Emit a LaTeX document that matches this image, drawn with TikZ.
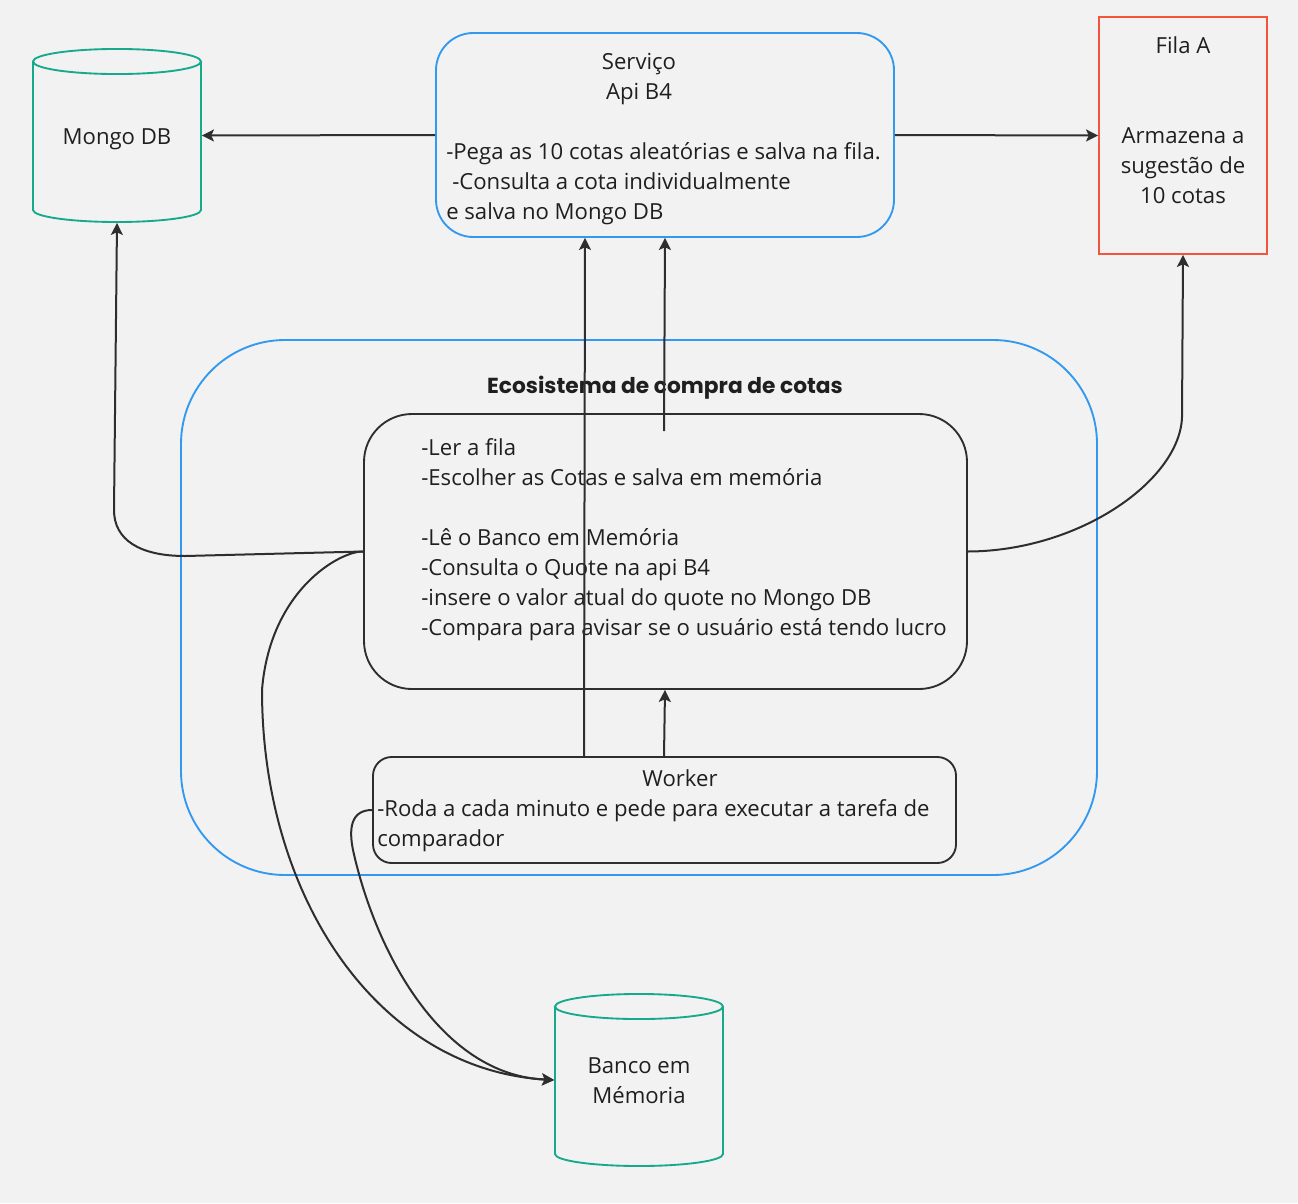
\documentclass[tikz,border=0pt]{standalone}
\usepackage{fontspec}
\setmainfont{Open Sans}
\newfontfamily\titlefont{Poppins}
\usetikzlibrary{arrows.meta,calc}
\definecolor{bgc}{HTML}{F2F2F2}
\definecolor{ink}{HTML}{2E2E2E}
\definecolor{txtc}{HTML}{1F1F1F}
\definecolor{dbgreen}{HTML}{17A98B}
\definecolor{svcblue}{HTML}{3399F0}
\definecolor{filared}{HTML}{F2553C}
\newcommand\tstr{\rule{0pt}{15pt}}
\begin{document}
\begin{tikzpicture}[x=0.75pt,y=-0.75pt,
  conn/.style={draw=ink,line width=1.5pt,-{Stealth[length=9pt,width=9pt,inset=2pt]}},
  lbl/.style={text=txtc,inner sep=0pt,font=\fontsize{16.6}{22.5}\selectfont},
  shp/.style={inner sep=0pt,line width=1.4pt},
  dbshape/.style={draw=dbgreen,line width=1.4pt},
  svcbox/.style={shp,draw=svcblue,rounded corners=28pt,minimum width=343.5pt,minimum height=153pt},
  filabox/.style={shp,draw=filared,minimum width=126pt,minimum height=177.75pt},
  ecobox/.style={shp,draw=svcblue,rounded corners=78pt,minimum width=687pt,minimum height=401.25pt},
  innerbox/.style={shp,draw=ink,rounded corners=36pt,minimum width=452.25pt,minimum height=206.25pt},
  workerbox/.style={shp,draw=ink,rounded corners=14pt,minimum width=437.25pt,minimum height=79.5pt},
  dbnode/.style={shp,minimum width=126pt,minimum height=129.75pt}
]
\fill[bgc] (0,0) rectangle (1298,1203);
\useasboundingbox (0,0) rectangle (1298,1203);

% shapes
\node[ecobox] (eco) at (639,607.5) {};
\node[svcbox] (svc) at (665,135) {};
\node[filabox] (fila) at (1183,135.5) {};
\node[innerbox] (inner) at (665.5,551.5) {};
\node[workerbox] (worker) at (664.5,810) {};
\node[dbnode] (mongo) at (117,135.5) {};
\node[dbnode] (banco) at (639,1080) {};

% cylinders
\draw[dbshape] (117,61.5) ellipse [x radius=63pt, y radius=9.4pt];
\draw[dbshape] (33,61.5) -- (33,210) arc[start angle=180, end angle=360, x radius=63pt, y radius=9pt] -- (201,61.5);
\draw[dbshape] (639,1006.5) ellipse [x radius=63pt, y radius=9.4pt];
\draw[dbshape] (555,1006.5) -- (555,1154) arc[start angle=180, end angle=360, x radius=63pt, y radius=9pt] -- (723,1006.5);

% texts
\node[lbl,anchor=north] (tmongo) at (117,124) {\tstr Mongo DB};
\node[lbl,anchor=north,align=center] (tsvca) at (639,49) {\tstr Serviço\\Api B4};
\node[lbl,anchor=north west,align=left] (tsvcb) at (446,139) {\tstr -Pega as 10 cotas aleatórias e salva na fila.\\\hspace*{4.5pt}-Consulta a cota individualmente\\e salva no Mongo DB};
\node[lbl,anchor=north] (tfila) at (1183,33) {\tstr Fila A};
\node[lbl,anchor=north,align=center] (tfilab) at (1183,123) {\tstr Armazena a\\sugestão de\\10 cotas};
\node[anchor=base,text=txtc,inner sep=0pt,font=\titlefont\bfseries\fontsize{16.3}{19}\selectfont] (title) at (665,393) {Ecosistema de compra de cotas};
\node[lbl,anchor=north west,align=left] (tinner) at (421,435) {\tstr -Ler a fila\\-Escolher as Cotas e salva em memória\\[22.5pt]-Lê o Banco em Memória\\-Consulta o Quote na api B4\\-insere o valor atual do quote no Mongo DB\\-Compara para avisar se o usuário está tendo lucro};
\node[lbl,anchor=north] (tworker) at (680,766) {\tstr Worker};
\node[lbl,anchor=north west,align=left] (tworkerb) at (377,796) {\tstr -Roda a cada minuto e pede para executar a tarefa de\\comparador};
\node[lbl,anchor=north,align=center] (tbanco) at (639,1053) {\tstr Banco em\\Mémoria};

% connectors
\coordinate (innertop) at (664,431);
\draw[conn] (svc.west) -- (mongo.east);
\draw[conn] (svc.east) -- (fila.west);
\draw[conn] (worker.north -| 584,0) -- (svc.south -| 585,0);
\draw[conn] (innertop) -- (svc.south -| 665,0);
\draw[conn] (worker.north -| 664,0) -- (inner.south -| 665,0);
\draw[conn] (inner.west) -- (185,556) .. controls (140,556) and (114,540) .. (114,510) -- (mongo.south);
\draw[conn] (inner.east) .. controls (1080,551) and (1180,480) .. (1182,417) -- (fila.south);
\draw[conn] (inner.west) .. controls (340,551) and (270,590) .. (262,690) .. controls (262,900) and (380,1070) .. (banco.west);
\draw[conn] (worker.west) .. controls (350,810) and (349,830) .. (353,850) .. controls (375,950) and (440,1075) .. (banco.west);
\end{tikzpicture}
\end{document}
